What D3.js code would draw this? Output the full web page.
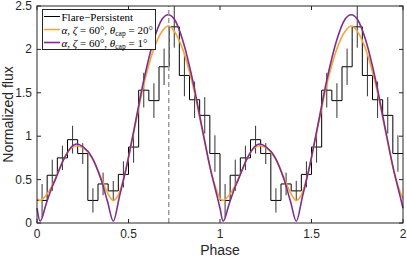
<!DOCTYPE html>
<html>
<head>
<meta charset="utf-8">
<script src="https://cdn.jsdelivr.net/npm/d3@7"></script>
<style>
  body { margin: 0; background: #fff; }
  .tick-label { font-family: "Liberation Sans", Arial, sans-serif; font-size: 12px; fill: #262626; }
  .axis-label { font-family: "Liberation Sans", Arial, sans-serif; font-size: 14px; fill: #262626; }
  .leg { font-family: "Liberation Serif", "Times New Roman", serif; font-size: 11px; fill: #000; }
</style>
</head>
<body>
<div id="svg"></div>
<script>
// histogram of the flare minus persistent profile, 18 bins per cycle (one cycle, repeated twice)
var binValues = [0.26, 0.55, 0.75, 0.96, 0.80, 0.26, 0.45, 0.37, 0.56, 0.875, 1.53, 1.41, 1.80, 2.26, 1.70, 1.42, 1.24, 0.80];
var binErrors = [0.19, 0.18, 0.14, 0.16, 0.12, 0.14, 0.13, 0.115, 0.15, 0.18, 0.20, 0.20, 0.21, 0.24, 0.24, 0.21, 0.21, 0.21];

// model curves (one cycle)
var modelPhase = [0, 0.017, 0.05, 0.08, 0.1, 0.15, 0.185, 0.217, 0.25, 0.3, 0.35, 0.385, 0.417, 0.45, 0.484, 0.534, 0.584, 0.634, 0.684, 0.717, 0.75, 0.8, 0.85, 0.9, 0.95, 0.984, 1.0];
var cap20 = [0.28, 0.26, 0.32, 0.42, 0.51, 0.75, 0.86, 0.89, 0.87, 0.75, 0.52, 0.35, 0.26, 0.35, 0.60, 1.10, 1.60, 1.98, 2.21, 2.27, 2.21, 1.98, 1.60, 1.10, 0.60, 0.36, 0.28];
var cap1 = [0.17, 0.02, 0.22, 0.40, 0.50, 0.75, 0.87, 0.91, 0.88, 0.76, 0.50, 0.25, 0.02, 0.30, 0.60, 1.12, 1.65, 2.08, 2.35, 2.40, 2.35, 2.08, 1.65, 1.12, 0.60, 0.31, 0.17];

var peakPhase = 0.72;

var xTicks = [0, 0.5, 1, 1.5, 2];
var yTicks = [0, 0.5, 1, 1.5, 2, 2.5];
var legendLabels = ["Flare\u2212Persistent", "cap20", "cap1"];

var nCycles = 2;
var width = 407,
    height = 258;

var x = d3.scaleLinear().domain([0, 2]).range([37, 403]);
var y = d3.scaleLinear().domain([0, 2.5]).range([223, 6]);

var svg = d3.select("#svg").append("svg")
    .attr("width", width)
    .attr("height", height);

// repeat one cycle over the two shown phases
var nb = binValues.length;
var bins = [];
for (var c = 0; c < nCycles; c++) {
    binValues.forEach(function(v, i) {
        bins.push({x0: c + i / nb, x1: c + (i + 1) / nb, v: v, e: binErrors[i]});
    });
}

function unfold(vals) {
    var pts = [];
    for (var c = 0; c < nCycles; c++) {
        modelPhase.forEach(function(p, i) {
            if (c > 0 && i === 0) return;
            pts.push({p: p + c, v: vals[i]});
        });
    }
    return pts;
}

var plot = svg.append("g");

// step histogram
var stepPts = bins.map(function(d) { return [d.x0, d.v]; });
stepPts.push([2, bins[bins.length - 1].v]);
plot.append("path")
    .attr("d", d3.line()
        .x(function(d) { return x(d[0]); })
        .y(function(d) { return y(d[1]); })
        .curve(d3.curveStepAfter)(stepPts))
    .attr("fill", "none")
    .attr("stroke", "#000")
    .attr("stroke-width", 1);

// error bars at bin centres
plot.selectAll("line.err")
    .data(bins).enter().append("line")
    .attr("class", "err")
    .attr("x1", function(d) { return x((d.x0 + d.x1) / 2); })
    .attr("x2", function(d) { return x((d.x0 + d.x1) / 2); })
    .attr("y1", function(d) { return y(Math.min(2.5, d.v + d.e)); })
    .attr("y2", function(d) { return y(d.v - d.e); })
    .attr("stroke", "#333")
    .attr("stroke-width", 1);

var modelLine = d3.line()
    .x(function(d) { return x(d.p); })
    .y(function(d) { return y(d.v); })
    .curve(d3.curveMonotoneX);

var orange = "#f7a537",
    purple = "#7e2f8e";

plot.append("path")
    .attr("d", modelLine(unfold(cap20)))
    .attr("fill", "none")
    .attr("stroke", orange)
    .attr("stroke-width", 1.6);

plot.append("path")
    .attr("d", modelLine(unfold(cap1)))
    .attr("fill", "none")
    .attr("stroke", purple)
    .attr("stroke-width", 1.6);

// dashed marker at the peak phase
plot.append("line")
    .attr("x1", x(peakPhase)).attr("x2", x(peakPhase))
    .attr("y1", y(0)).attr("y2", y(2.5))
    .attr("stroke", "#999")
    .attr("stroke-width", 1.4)
    .attr("stroke-dasharray", "5,3");

// axes box with inward ticks, matlab style
var axisCol = "#262626";
svg.append("rect")
    .attr("x", x(0)).attr("y", y(2.5))
    .attr("width", x(2) - x(0)).attr("height", y(0) - y(2.5))
    .attr("fill", "none")
    .attr("stroke", axisCol)
    .attr("stroke-width", 1);

var tl = 4;
xTicks.forEach(function(t) {
    svg.append("line").attr("x1", x(t)).attr("x2", x(t)).attr("y1", y(0)).attr("y2", y(0) - tl).attr("stroke", axisCol);
    svg.append("line").attr("x1", x(t)).attr("x2", x(t)).attr("y1", y(2.5)).attr("y2", y(2.5) + tl).attr("stroke", axisCol);
    svg.append("text")
        .attr("class", "tick-label")
        .attr("x", x(t)).attr("y", y(0) + 15)
        .attr("text-anchor", "middle")
        .text(t);
});
yTicks.forEach(function(t) {
    svg.append("line").attr("x1", x(0)).attr("x2", x(0) + tl).attr("y1", y(t)).attr("y2", y(t)).attr("stroke", axisCol);
    svg.append("line").attr("x1", x(2)).attr("x2", x(2) - tl).attr("y1", y(t)).attr("y2", y(t)).attr("stroke", axisCol);
    svg.append("text")
        .attr("class", "tick-label")
        .attr("x", x(0) - 5).attr("y", y(t) + 4)
        .attr("text-anchor", "end")
        .text(t);
});

svg.append("text")
    .attr("class", "axis-label")
    .attr("x", (x(0) + x(2)) / 2).attr("y", 255)
    .attr("text-anchor", "middle")
    .text("Phase");

svg.append("text")
    .attr("class", "axis-label")
    .attr("transform", "translate(13," + (y(1.25)) + ") rotate(-90)")
    .attr("text-anchor", "middle")
    .text("Normalized flux");

// legend
var leg = svg.append("g");
leg.append("rect")
    .attr("x", 42.5).attr("y", 9.5)
    .attr("width", 113).attr("height", 40)
    .attr("fill", "#fff")
    .attr("stroke", axisCol)
    .attr("stroke-width", 1);

var legColors = ["#000", orange, purple];
var legCaps = ["20", "1"];
legendLabels.forEach(function(lab, i) {
    var ly = 16.5 + i * 13;
    leg.append("line")
        .attr("x1", 44).attr("x2", 60)
        .attr("y1", ly).attr("y2", ly)
        .attr("stroke", legColors[i])
        .attr("stroke-width", i === 0 ? 1 : 1.6);
    var t = leg.append("text")
        .attr("class", "leg")
        .attr("x", 61.5).attr("y", ly + 4);
    if (i === 0) {
        t.text(lab);
    } else {
        t.append("tspan").attr("font-style", "italic").text("\u03b1");
        t.append("tspan").text(", ");
        t.append("tspan").attr("font-style", "italic").text("\u03b6");
        t.append("tspan").text(" = 60\u00b0, ");
        t.append("tspan").attr("font-style", "italic").text("\u03b8");
        t.append("tspan").attr("font-size", "7.5px").attr("dy", 2.5).text("cap");
        t.append("tspan").attr("dy", -2.5).text(" = " + legCaps[i - 1] + "\u00b0");
    }
});
</script>
</body>
</html>
